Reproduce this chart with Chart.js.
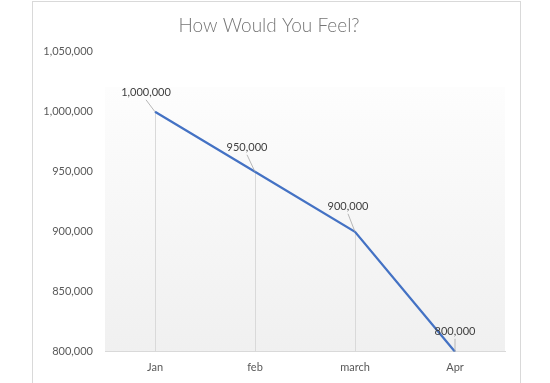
<!DOCTYPE html>
<html>
<head>
<meta charset="utf-8">
<script src="https://cdn.jsdelivr.net/npm/chart.js@4"></script>
<style>
  html, body { margin: 0; padding: 0; background: #ffffff; overflow: hidden; }
  #frame { position: absolute; left: 32px; top: 1px; width: 487px; height: 400px; border: 1px solid #d9d9d9; box-sizing: content-box; }
  #wrap { position: relative; width: 487px; height: 381px; }
</style>
</head>
<body>
<div id="frame"><div id="wrap"><canvas id="c"></canvas></div></div>
<script>
const chartTitle = "How Would You Feel?";
const categories = ["Jan", "feb", "march", "Apr"];
const values = [1000000, 950000, 900000, 800000];
const yMin = 800000;
const yMax = 1050000;
const yStep = 50000;

const fmt = v => v.toLocaleString('en-US');

const bgPlugin = {
  id: 'bgGradient',
  beforeDraw(chart) {
    const { ctx, chartArea: a } = chart;
    const top = a.top + 35;
    const g = ctx.createLinearGradient(0, top, 0, a.bottom);
    g.addColorStop(0, '#fdfdfd');
    g.addColorStop(1, '#f0f0f0');
    ctx.save();
    ctx.fillStyle = g;
    ctx.fillRect(a.left, top, a.right - a.left, a.bottom - top);
    ctx.restore();
  }
};

const dropLines = {
  id: 'dropLines',
  beforeDatasetsDraw(chart) {
    const { ctx, chartArea: a } = chart;
    const meta = chart.getDatasetMeta(0);
    ctx.save();
    ctx.strokeStyle = '#d9d9d9';
    ctx.lineWidth = 1;
    meta.data.forEach(p => {
      const x = Math.round(p.x) + 0.5;
      ctx.beginPath();
      ctx.moveTo(x, p.y);
      ctx.lineTo(x, a.bottom);
      ctx.stroke();
    });
    ctx.restore();
  }
};

const labelOffsets = [[-9, -19], [-8, -24], [-7, -25], [0, -20]];
const dataLabels = {
  id: 'dataLabels',
  afterDatasetsDraw(chart) {
    const { ctx } = chart;
    const meta = chart.getDatasetMeta(0);
    const ds = chart.data.datasets[0];
    ctx.save();
    ctx.font = '11px Lato, "DejaVu Sans", sans-serif';
    ctx.textAlign = 'center';
    ctx.textBaseline = 'middle';
    meta.data.forEach((p, i) => {
      const [dx, dy] = labelOffsets[i];
      const lx = p.x + dx, ly = p.y + dy;
      ctx.strokeStyle = '#a6a6a6';
      ctx.lineWidth = 0.8;
      ctx.beginPath();
      ctx.moveTo(lx, ly + 7);
      ctx.lineTo(p.x, p.y);
      ctx.stroke();
      ctx.fillStyle = '#404040';
      ctx.fillText(fmt(ds.data[i]), lx, ly);
    });
    ctx.restore();
  }
};

new Chart(document.getElementById('c'), {
  type: 'line',
  data: {
    labels: categories,
    datasets: [{
      data: values,
      borderColor: '#4472C4',
      borderWidth: 2.25,
      pointRadius: 0,
      tension: 0,
      fill: false
    }]
  },
  options: {
    responsive: true,
    maintainAspectRatio: false,
    animation: false,
    layout: { padding: { left: 0, right: 15, top: 0, bottom: 0 } },
    plugins: {
      legend: { display: false },
      tooltip: { enabled: false },
      title: {
        display: true,
        text: chartTitle,
        color: '#757575',
        font: { family: 'Lato, "DejaVu Sans", sans-serif', size: 19, weight: '300' },
        padding: { top: 12, bottom: 15 }
      }
    },
    scales: {
      x: {
        offset: true,
        grid: { display: false, drawTicks: false },
        border: { display: true, color: '#d9d9d9', width: 1 },
        ticks: { color: '#595959', font: { family: 'Lato, "DejaVu Sans", sans-serif', size: 11 }, padding: 9 }
      },
      y: {
        min: yMin,
        max: yMax,
        ticks: {
          stepSize: yStep,
          color: '#595959',
          font: { family: 'Lato, "DejaVu Sans", sans-serif', size: 11 },
          padding: 12,
          callback: v => fmt(v)
        },
        grid: { display: false, drawTicks: false },
        border: { display: false },
        afterFit(scale) { scale.width = 72; }
      }
    }
  },
  plugins: [bgPlugin, dropLines, dataLabels]
});
</script>
</body>
</html>
